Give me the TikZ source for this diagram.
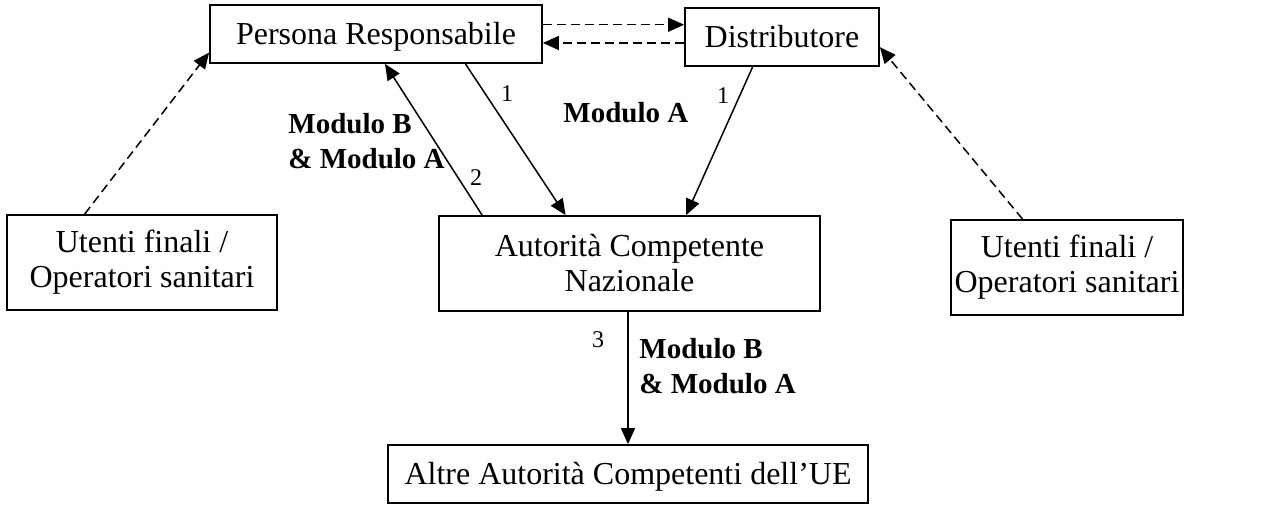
\documentclass[tikz,border=0pt]{standalone}
\usepackage{fontspec}
\setmainfont{Liberation Serif}
\usetikzlibrary{arrows.meta,calc}
\begin{document}
\begin{tikzpicture}[x=0.5pt,y=-0.5pt,
  box/.style={draw,line width=0.9pt,inner sep=0pt,align=center,
    font=\fontsize{16pt}{17.5pt}\selectfont},
  conn/.style={line width=0.75pt,-{Triangle[length=8pt,width=7pt]}},
  dconn/.style={conn,dash pattern=on 4.5pt off 2.5pt},
  num/.style={inner sep=0pt,font=\fontsize{12pt}{14pt}\selectfont},
  lab/.style={inner sep=0pt,align=left,font=\bfseries\fontsize{14.5pt}{17.5pt}\selectfont}]
\useasboundingbox (0,0) rectangle (1263,504);
\node[box,minimum width=166pt,minimum height=29pt,text depth=1pt] (PR) at (376,34) {Persona Responsabile};
\node[box,minimum width=97pt,minimum height=29pt,text depth=1pt] (D) at (782,37) {Distributore};
\node[box,minimum width=135pt,minimum height=47.5pt] (UL) at (142,262.5) {Utenti finali /\\Operatori sanitari};
\node[box,minimum width=116pt,minimum height=47.5pt] (UR) at (1067,267.5) {Utenti finali /\\Operatori sanitari};
\node[box,minimum width=190.5pt,minimum height=47.5pt] (ACN) at (629.5,263.5) {Autorità Competente\\Nazionale};
\node[box,minimum width=240pt,minimum height=29pt,text depth=1pt] (EU) at (628,474) {Altre Autorità Competenti dell’UE};
% dashed between PR and Distributore
\coordinate (p1) at ($(PR.north east)!0.345!(PR.south east)$);
\draw[dconn] (p1) -- (p1 -| D.west);
\coordinate (d1) at ($(D.north west)!0.60!(D.south west)$);
\draw[dconn] (d1) -- (d1 -| PR.east);
% dashed from users
\draw[dconn] ($(UL.north west)!0.289!(UL.north east)$) -- ($(PR.north west)!0.81!(PR.south west)$);
\draw[dconn] ($(UR.north west)!0.31!(UR.north east)$) -- ($(D.north east)!0.67!(D.south east)$);
% solid arrows
\draw[conn] ($(ACN.north west)!0.115!(ACN.north east)$) -- ($(PR.south west)!0.527!(PR.south east)$);
\draw[conn] ($(PR.south west)!0.768!(PR.south east)$) -- ($(ACN.north west)!0.333!(ACN.north east)$);
\draw[conn] ($(D.south west)!0.35!(D.south east)$) -- ($(ACN.north west)!0.648!(ACN.north east)$);
\draw[conn] (EU.north |- ACN.south) -- (EU.north);
% labels
\node[num,anchor=base] (n1a) at (507,101) {1};
\node[num,anchor=base] (n1b) at (723,103) {1};
\node[num,anchor=base] (n2) at (476,185) {2};
\node[num,anchor=base] (n3) at (598,347) {3};
\node[lab,anchor=base west] (mA) at (563,122) {Modulo A};
\node[lab,anchor=west] (mBA1) at (288,141.5) {Modulo B\\\& Modulo A};
\node[lab,anchor=west] (mBA2) at (639,366) {Modulo B\\\& Modulo A};
\end{tikzpicture}
\end{document}
